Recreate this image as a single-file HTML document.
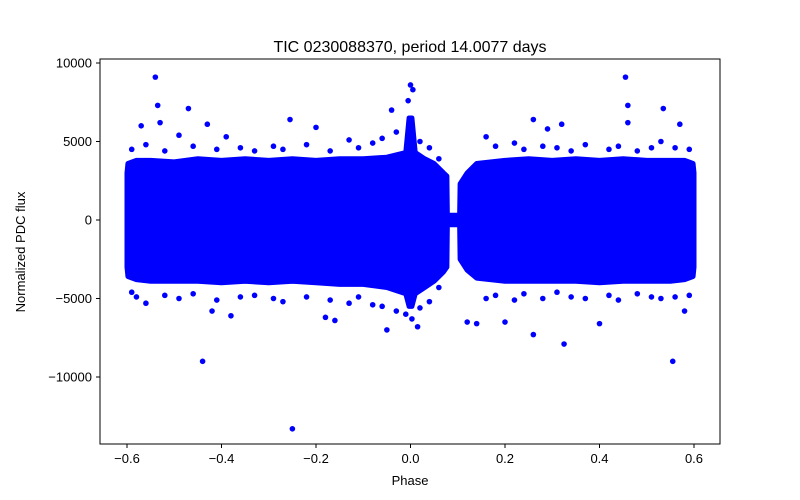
<!DOCTYPE html>
<html><head><meta charset="utf-8"><style>
body{margin:0;background:#fff;}
svg{display:block;font-family:"Liberation Sans",sans-serif;}
</style></head><body>
<svg id="chart" width="800" height="500">
<rect x="0" y="0" width="800" height="500" fill="#fff"/>
<g id="marks"></g>
<rect x="100" y="59" width="620" height="385" fill="none" stroke="#000" stroke-width="1"/>
<g id="axes"></g>
<text x="410" y="52" font-size="16" text-anchor="middle">TIC 0230088370, period 14.0077 days</text>
<text x="410" y="485" font-size="13" text-anchor="middle">Phase</text>
<text x="25" y="252" font-size="13" text-anchor="middle" transform="rotate(-90 25 252)">Normalized PDC flux</text>
</svg>
<script>
const binPhase = [-0.6,-0.598,-0.58,-0.55,-0.5,-0.45,-0.4,-0.35,-0.3,-0.25,-0.2,-0.15,-0.1,-0.05,-0.01,-0.003,0.003,0.01,0.03,0.05,0.07,0.077,0.078,0.104,0.105,0.12,0.14,0.2,0.25,0.3,0.35,0.4,0.45,0.5,0.55,0.58,0.598,0.6];
const binUpper = [3000,3600,3800,3800,3700,3900,3800,3900,3800,3900,3800,3900,3900,4000,4300,6500,6500,4300,3900,3600,3000,2800,300,300,2300,3000,3600,3800,3900,3800,3900,3800,3900,3800,3800,3800,3600,3000];
const binLower = [-3000,-3600,-3800,-3900,-3900,-3900,-4000,-3900,-4000,-3900,-4000,-4100,-4100,-4300,-4700,-5500,-5500,-4700,-4300,-3900,-3300,-3000,-300,-300,-2500,-3200,-3700,-3900,-3900,-3900,-3900,-4000,-3900,-3900,-3900,-3800,-3600,-3000];
const outPhase = [-0.54,-0.535,-0.53,-0.47,-0.44,-0.25,-0.255,0,0.005,-0.04,0.455,0.46,0.535,0.555,0.325,0.26,0.26,0.015,-0.01,-0.43,-0.57,-0.2,0.2,0.14,0.4,0.58,-0.42,-0.38,-0.18,-0.16,-0.05,0.32,0.29,0.57,0.46,-0.39,-0.58,-0.005,0.003,0.12,
 -0.59,-0.56,-0.52,-0.49,-0.46,-0.41,-0.36,-0.33,-0.29,-0.27,-0.22,-0.17,-0.13,-0.11,-0.08,-0.06,-0.03,0.02,0.04,0.06,0.16,0.18,0.22,0.24,0.28,0.31,0.34,0.37,0.42,0.44,0.48,0.51,0.53,0.56,0.59,
 -0.59,-0.56,-0.52,-0.49,-0.46,-0.41,-0.36,-0.33,-0.29,-0.27,-0.22,-0.17,-0.13,-0.11,-0.08,-0.06,-0.03,0.02,0.04,0.06,0.16,0.18,0.22,0.24,0.28,0.31,0.34,0.37,0.42,0.44,0.48,0.51,0.53,0.56,0.59];
const outFlux = [9100,7300,6200,7100,-9000,-13300,6400,8600,8300,7000,9100,7300,7100,-9000,-7900,-7300,6400,-6800,-6000,6100,6000,5900,-6500,-6600,-6600,-5800,-5800,-6100,-6200,-6400,-7000,6100,5800,6100,6200,5300,-4900,7600,-6300,-6500,
 4500,4800,4400,5400,4700,4500,4600,4400,4700,4500,4800,4400,5100,4600,4900,5200,5600,5000,4600,3900,5300,4700,4900,4500,4700,4600,4400,4800,4500,4700,4400,4600,5000,4600,4500,
 -4600,-5300,-4800,-5000,-4700,-5100,-4900,-4800,-5000,-5200,-4900,-5100,-5300,-4900,-5400,-5500,-5800,-5600,-5200,-4300,-5000,-4800,-5100,-4700,-5000,-4600,-4900,-5000,-4800,-5100,-4700,-4900,-5000,-4900,-4800];
const xTicks = [-0.6,-0.4,-0.2,0.0,0.2,0.4,0.6];
const xTickLabels = ["\u22120.6","\u22120.4","\u22120.2","0.0","0.2","0.4","0.6"];
const yTicks = [10000,5000,0,-5000,-10000];
const yTickLabels = ["10000","5000","0","\u22125000","\u221210000"];

const xS = p => 410.5 + p * 472.5;
const yS = v => 220 - v * 0.0157;
const NS = "http://www.w3.org/2000/svg";
const marks = document.getElementById('marks');
const axes = document.getElementById('axes');

let pts = [];
for (let i = 0; i < binPhase.length; i++) pts.push(xS(binPhase[i]) + "," + yS(binUpper[i]));
for (let i = binPhase.length - 1; i >= 0; i--) pts.push(xS(binPhase[i]) + "," + yS(binLower[i]));
const band = document.createElementNS(NS, 'polygon');
band.setAttribute('points', pts.join(' '));
band.setAttribute('fill', '#0000ff');
band.setAttribute('stroke', '#0000ff');
band.setAttribute('stroke-width', '5');
band.setAttribute('stroke-linejoin', 'round');


marks.appendChild(band);

for (let i = 0; i < outPhase.length; i++) {
  const c = document.createElementNS(NS, 'circle');
  c.setAttribute('cx', xS(outPhase[i]));
  c.setAttribute('cy', yS(outFlux[i]));
  c.setAttribute('r', 2.8);
  c.setAttribute('fill', '#0000ff');
  
  
  marks.appendChild(c);
}

xTicks.forEach((t, i) => {
  const l = document.createElementNS(NS, 'line');
  l.setAttribute('x1', xS(t)); l.setAttribute('x2', xS(t));
  l.setAttribute('y1', 444); l.setAttribute('y2', 448);
  l.setAttribute('stroke', '#000');
  
  
  axes.appendChild(l);
  const tx = document.createElementNS(NS, 'text');
  tx.setAttribute('x', xS(t)); tx.setAttribute('y', 463);
  tx.setAttribute('font-size', '13'); tx.setAttribute('text-anchor', 'middle');
  tx.textContent = xTickLabels[i];
  
  
  axes.appendChild(tx);
});
yTicks.forEach((t, i) => {
  const l = document.createElementNS(NS, 'line');
  l.setAttribute('x1', 96); l.setAttribute('x2', 100);
  l.setAttribute('y1', yS(t)); l.setAttribute('y2', yS(t));
  l.setAttribute('stroke', '#000');
  
  
  axes.appendChild(l);
  const tx = document.createElementNS(NS, 'text');
  tx.setAttribute('x', 92); tx.setAttribute('y', yS(t) + 4.5);
  tx.setAttribute('font-size', '13'); tx.setAttribute('text-anchor', 'end');
  tx.textContent = yTickLabels[i];
  
  
  axes.appendChild(tx);
});
</script>
</body></html>
